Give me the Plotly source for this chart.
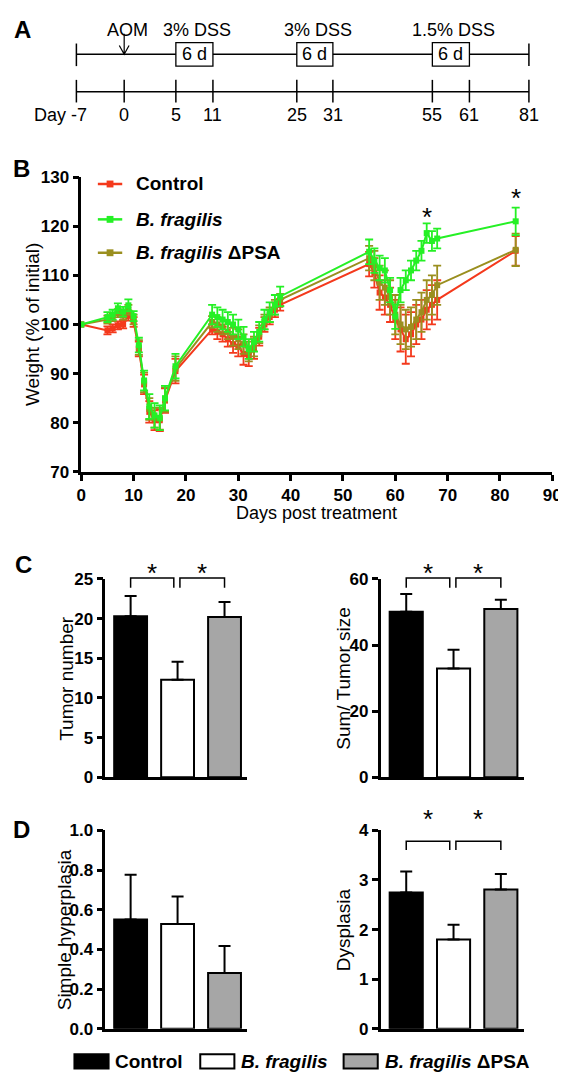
import plotly.graph_objects as go

# ---------------- data ----------------
groups = ["Control", "B. fragilis", "B. fragilis ΔPSA"]

days = [0, 5, 6, 7, 8, 9, 10, 11, 12, 13, 14, 15, 16, 18,
        25, 26, 27, 28, 29, 30, 31, 32, 33, 34, 35, 36, 37, 38,
        55, 56, 57, 58, 59, 60, 61, 62, 63, 64, 65, 66, 67, 68,
        83]

control_weight = [100, 98.8, 99.2, 99.8, 100, 101.8, 100.5, 95, 87.8, 82.2, 80.5, 80.5, 84.5, 90.5,
                  99, 98.5, 98, 97, 96, 95.5, 94, 93.5, 95, 97.5, 100, 101.5, 103, 104,
                  112.3, 110.5, 106.5, 105.5, 104, 101, 99, 97, 98, 100, 101, 103, 104, 105,
                  115]
control_sem = [0, 0.8, 0.8, 0.8, 0.8, 1.0, 1.0, 1.5, 2, 2.2, 2, 2.2, 2.5, 2.5,
               1, 1.5, 1.5, 1.5, 1.8, 2, 2.2, 2, 2, 1.8, 1.5, 1.5, 1.5, 1.2,
               2.5, 3, 3.5, 3.5, 3.5, 4, 4.5, 5, 4.5, 4, 4, 4, 4, 4,
               3]

bfrag_weight = [100, 101.5, 102, 103.3, 102.6, 103.9, 101.7, 95.8, 88.6, 83.3, 81.5, 81, 85, 91.5,
                102, 101.5, 101, 100.5, 100, 99, 97.5, 95, 96.5, 98.5, 101, 102.5, 104, 105.7,
                114.8, 113, 111.5, 111, 107, 101.6, 107, 109, 111, 113, 115, 118.6, 117, 117.5,
                121]
bfrag_sem = [0, 1, 1, 1, 1, 1.2, 1, 1.5, 2, 2.5, 2.5, 2.5, 2.5, 2.5,
             2, 2, 2, 2, 2, 2, 2, 2, 2, 2, 2, 2, 2, 2,
             2.5, 2.5, 2.5, 2.5, 2.5, 2.5, 2.5, 2, 2, 2, 2, 2, 2, 2,
             2.8]

dpsa_weight = [100, 101, 101.5, 102.3, 101.8, 103, 101, 95.3, 88.2, 82.8, 81, 80.8, 84.7, 91,
               100.5, 100, 99.5, 98.5, 97.5, 97, 96, 94.5, 95.5, 98, 100.5, 102, 103.5, 105,
               113.5, 112, 108.5, 107.5, 105.5, 102, 100, 99, 99.5, 101, 102.5, 105, 106, 108,
               115.2]
dpsa_sem = [0, 0.8, 0.8, 0.8, 0.8, 1.0, 1.0, 1.5, 2, 2.2, 2, 2.2, 2.5, 2.5,
            1.2, 1.5, 1.5, 1.5, 1.8, 2, 2, 2, 2, 1.8, 1.5, 1.5, 1.5, 1.2,
            2.5, 3, 3.5, 3.5, 3.5, 4, 4, 4, 4, 4, 4, 4, 4, 4,
            3.3]

weight_sig_days = [66, 83]

tumor_number = [20.3, 12.3, 20.2]
tumor_number_sem = [2.55, 2.25, 1.9]
tumor_size = [50.1, 32.9, 50.9]
tumor_size_sem = [5.3, 5.7, 2.8]
hyperplasia = [0.551, 0.528, 0.281]
hyperplasia_sem = [0.225, 0.139, 0.136]
dysplasia = [2.75, 1.80, 2.81]
dysplasia_sem = [0.42, 0.30, 0.31]

timeline_days = [-7, 0, 5, 11, 25, 31, 55, 61, 81]
aom_day = 0
dss_windows = [(5, 11, "3% DSS"), (25, 31, "3% DSS"), (55, 61, "1.5% DSS")]

# ---------------- styling / layout ----------------
W, H = 566, 1076
FONT = "Liberation Sans, Arial, sans-serif"
line_colors = {"Control": "#f4391c", "B. fragilis": "#25f025", "B. fragilis ΔPSA": "#9a8f1f"}
bar_colors = ["#000000", "#ffffff", "#a6a6a6"]

# horizontal positions (px) of the timeline days in panel A (not to scale)
timeline_px = [65, 114, 167, 205, 291, 328, 430, 468, 529]


def px(x):
    return x / W


def py(y):
    return 1 - y / H


def tlx(day):
    return timeline_px[timeline_days.index(day)]


fig = go.Figure()

# ---------------- panel B: weight curves ----------------
series = [("Control", control_weight, control_sem),
          ("B. fragilis ΔPSA", dpsa_weight, dpsa_sem),
          ("B. fragilis", bfrag_weight, bfrag_sem)]
for name, vals, sem in series:
    c = line_colors[name]
    fig.add_trace(go.Scatter(
        x=days, y=vals, mode="lines+markers", name=name,
        line=dict(color=c, width=2),
        marker=dict(symbol="square", size=6, color=c),
        error_y=dict(type="data", array=sem, color=c, thickness=1.8, width=4),
        cliponaxis=False, xaxis="x", yaxis="y", showlegend=False))

# ---------------- panels C and D: bars ----------------
bar_panels = [("x2", "y2", tumor_number, tumor_number_sem),
              ("x3", "y3", tumor_size, tumor_size_sem),
              ("x4", "y4", hyperplasia, hyperplasia_sem),
              ("x5", "y5", dysplasia, dysplasia_sem)]
for xa, ya, vals, sem in bar_panels:
    fig.add_trace(go.Bar(
        x=list(range(len(groups))), y=vals, width=0.7,
        marker=dict(color=bar_colors, line=dict(color="black", width=2)),
        error_y=dict(type="data", symmetric=False, array=sem, arrayminus=[0] * len(sem),
                     color="black", thickness=2, width=6),
        xaxis=xa, yaxis=ya, showlegend=False, cliponaxis=False))

tickfont = dict(family=FONT, size=17, color="black", weight="bold")
axis_common = dict(showline=True, linecolor="black", linewidth=2.5, ticks="outside",
                   ticklen=6, tickwidth=2.5, tickcolor="black", showgrid=False,
                   zeroline=False, tickfont=tickfont, fixedrange=True,
                   ticklabeloverflow="allow")

left_bar_dom = [px(94.6), px(240)]
right_bar_dom = [px(377), px(523.5)]
c_dom = [py(774), py(572)]
d_dom = [py(1030), py(828)]
bar_xaxis = dict(showline=True, linecolor="black", linewidth=2.5, ticks="",
                 showticklabels=False, showgrid=False, zeroline=False, range=[-0.54, 2.48])

B_LEFT, B_RIGHT = 70, 553

fig.update_layout(
    width=W, height=H, margin=dict(l=0, r=0, t=0, b=0),
    paper_bgcolor="white", plot_bgcolor="white", showlegend=False,
    font=dict(family=FONT, color="black"),
    xaxis=dict(domain=[px(B_LEFT), px(B_RIGHT)], anchor="y", range=[0, 90], dtick=10, **axis_common),
    yaxis=dict(domain=[py(463), py(163)], anchor="x", range=[70, 130], dtick=10, **axis_common),
    xaxis2=dict(domain=left_bar_dom, anchor="y2", **bar_xaxis),
    yaxis2=dict(domain=c_dom, anchor="x2", range=[0, 25], dtick=5, **axis_common),
    xaxis3=dict(domain=right_bar_dom, anchor="y3", **bar_xaxis),
    yaxis3=dict(domain=c_dom, anchor="x3", range=[0, 60], dtick=20, **axis_common),
    xaxis4=dict(domain=left_bar_dom, anchor="y4", **bar_xaxis),
    yaxis4=dict(domain=d_dom, anchor="x4", range=[0, 1], dtick=0.2, tickformat=".1f", **axis_common),
    xaxis5=dict(domain=right_bar_dom, anchor="y5", **bar_xaxis),
    yaxis5=dict(domain=d_dom, anchor="x5", range=[0, 4], dtick=1, **axis_common),
)

shapes = []
annotations = []


def text(x, y, s, size=18, xanchor="center", yanchor="middle", angle=0, xref="paper", yref="paper"):
    annotations.append(dict(x=x, y=y, xref=xref, yref=yref, text=s, showarrow=False,
                            xanchor=xanchor, yanchor=yanchor, textangle=angle, borderpad=0,
                            font=dict(family=FONT, size=size, color="black")))


# panel letters
for letter, (lx, ly) in {"A": (10, 13), "B": (9, 154), "C": (11, 557), "D": (9, 827)}.items():
    text(px(lx), py(ly), f"<b>{letter}</b>", size=24)

# ---------------- panel A: timeline ----------------
top_y, bot_y = 38, 76
shapes.append(dict(type="line", xref="paper", yref="paper", x0=px(tlx(-7)), x1=px(tlx(81)),
                   y0=py(top_y), y1=py(top_y), line=dict(color="black", width=1.5)))
for d in (timeline_days[0], timeline_days[-1]):
    shapes.append(dict(type="line", xref="paper", yref="paper", x0=px(tlx(d)), x1=px(tlx(d)),
                       y0=py(27), y1=py(50), line=dict(color="black", width=1.5)))
for s, e, lab in dss_windows:
    shapes.append(dict(type="rect", xref="paper", yref="paper", x0=px(tlx(s)), x1=px(tlx(e)),
                       y0=py(50), y1=py(26), fillcolor="white", line=dict(color="black", width=1.3)))
    cx = (tlx(s) + tlx(e)) / 2
    text(px(cx), py(38), f"{e - s} d", size=18)
    text(px(cx + 3), py(13), lab, size=18)
# AOM arrow
ax = tlx(aom_day)
shapes.append(dict(type="path", xref="paper", yref="paper",
                   path=f"M {px(ax)},{py(17)} L {px(ax)},{py(top_y)} M {px(ax - 5)},{py(29)} L {px(ax)},{py(top_y)} L {px(ax + 5)},{py(29)}",
                   line=dict(color="black", width=1.2)))
text(px(ax + 3), py(13), "AOM", size=18)
# lower scale
shapes.append(dict(type="line", xref="paper", yref="paper", x0=px(tlx(-7)), x1=px(tlx(81)),
                   y0=py(bot_y), y1=py(bot_y), line=dict(color="black", width=1.5)))
for d in timeline_days:
    shapes.append(dict(type="line", xref="paper", yref="paper", x0=px(tlx(d)), x1=px(tlx(d)),
                       y0=py(64), y1=py(87), line=dict(color="black", width=1.5)))
    if d == timeline_days[0]:
        text(px(tlx(d) + 12), py(100), f"Day {d}", size=18, xanchor="right")
    else:
        text(px(tlx(d)), py(100), str(d), size=18)

# ---------------- panel B extras ----------------
text(px(20), py(313), "Weight (% of initial)", size=19, angle=-90)
text(px((B_LEFT + B_RIGHT) / 2), py(505), "Days post treatment", size=18)
star_y = {66: 121.8, 83: 125.8}
for d in weight_sig_days:
    annotations.append(dict(x=d, y=star_y[d], xref="x", yref="y", text="*", showarrow=False,
                            font=dict(family=FONT, size=26, color="black")))
# manual legend
leg_rows = [("Control", "<b>Control</b>", 170),
            ("B. fragilis", "<b><i>B. fragilis</i></b>", 206),
            ("B. fragilis ΔPSA", "<b><i>B. fragilis</i> ΔPSA</b>", 240)]
for key, lab, yy in leg_rows:
    c = line_colors[key]
    shapes.append(dict(type="line", xref="paper", yref="paper", x0=px(87), x1=px(112),
                       y0=py(yy), y1=py(yy), line=dict(color=c, width=2.5)))
    shapes.append(dict(type="rect", xref="paper", yref="paper", x0=px(96), x1=px(103),
                       y0=py(yy + 3.5), y1=py(yy - 3.5), fillcolor=c, line=dict(width=0)))
    text(px(125), py(yy), lab, size=19, xanchor="left")

# ---------------- panels C, D extras ----------------
text(px(54), py(673), "Tumor number", size=19, angle=-90)
text(px(339), py(673), "Sum/ Tumor size", size=19, angle=-90)
text(px(53), py(929), "Simple hyperplasia", size=19, angle=-90)
text(px(339), py(929), "Dysplasia", size=19, angle=-90)


def brackets(xa, top, bottom, star):
    for a, b in [(0, 0.92), (1.05, 2.0)]:
        shapes.append(dict(type="path", xref=xa, yref="paper",
                           path=f"M {a},{py(bottom)} L {a},{py(top)} L {b},{py(top)} L {b},{py(bottom)}",
                           line=dict(color="black", width=1.5)))
        annotations.append(dict(x=(a + b) / 2, y=py(star), xref=xa, yref="paper", text="*",
                                showarrow=False, font=dict(family=FONT, size=26, color="black")))


brackets("x2", 571, 581, 566)
brackets("x3", 571, 581, 566)
brackets("x5", 839, 848, 834)

# bottom legend
leg_items = [("<b>Control</b>", 63, 98), ("<b><i>B. fragilis</i></b>", 192, 227),
             ("<b><i>B. fragilis</i> ΔPSA</b>", 339, 374)]
for (lab, x0, x1), col in zip(leg_items, bar_colors):
    shapes.append(dict(type="rect", xref="paper", yref="paper", x0=px(x0), x1=px(x1),
                       y0=py(1070.5), y1=py(1056), fillcolor=col, line=dict(color="black", width=2)))
    text(px(x1 + 6), py(1063), lab, size=19, xanchor="left")

fig.update_layout(shapes=shapes, annotations=annotations)
fig.write_html("out.html")
